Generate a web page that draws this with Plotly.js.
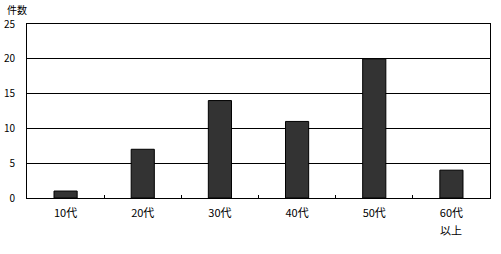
<!DOCTYPE html>
<html>
<head>
<meta charset="utf-8">
<script src="https://cdn.plot.ly/plotly-3.0.1.min.js"></script>
<style>body{margin:0;padding:0;background:#fff;}#chart{width:501px;height:254px;}</style>
</head>
<body>
<div id="chart"></div>
<script>
var categories = ["10代", "20代", "30代", "40代", "50代", "60代以上"];
var counts = [1, 7, 14, 11, 20, 4];
var tickLine1 = ["10代", "20代", "30代", "40代", "50代", "60代"];
var tickLine2 = ["", "", "", "", "", "以上"];
var yTicks = [0, 5, 10, 15, 20, 25];
var yAxisLabel = "件数";

var font = "'MS PGothic', 'Noto Sans CJK JP', sans-serif";

var trace = {
  type: "bar",
  x: categories,
  y: counts,
  marker: {color: "#333333", line: {color: "#000000", width: 1}},
  hoverinfo: "none"
};

var annotations = [{
  text: yAxisLabel, xref: "paper", yref: "paper",
  x: 0, y: 1, xanchor: "left", yanchor: "bottom",
  xshift: -21, yshift: 6, showarrow: false, borderpad: 0,
  font: {family: font, size: 10, color: "#000"}
}];
categories.forEach(function (c, i) {
  if (tickLine2[i]) {
    annotations.push({
      text: tickLine2[i], xref: "x", yref: "paper",
      x: c, y: 0, xanchor: "center", yanchor: "top",
      yshift: -23, showarrow: false, borderpad: 0,
      font: {family: font, size: 11, color: "#000"}
    });
  }
});

var layout = {
  width: 501, height: 254,
  margin: {l: 27, r: 11, t: 24, b: 56},
  paper_bgcolor: "#ffffff", plot_bgcolor: "#ffffff",
  bargap: 0.7,
  showlegend: false,
  font: {family: font, size: 10, color: "#000"},
  xaxis: {
    type: "category",
    tickmode: "array", tickvals: categories, ticktext: tickLine1,
    showline: true, linecolor: "#000", linewidth: 1, mirror: true,
    ticks: "inside", tickson: "boundaries", ticklen: 3, tickcolor: "#000",
    showgrid: false, zeroline: false,
    tickfont: {family: font, size: 11, color: "#000"},
    ticklabelstandoff: 5
  },
  yaxis: {
    range: [0, 25],
    tickvals: yTicks,
    showline: true, linecolor: "#000", linewidth: 1, mirror: true,
    showgrid: true, gridcolor: "#000", gridwidth: 1,
    zeroline: false, ticks: "",
    tickfont: {family: font, size: 10, color: "#000"},
    ticklabelstandoff: 9
  },
  annotations: annotations
};

Plotly.newPlot("chart", [trace], layout, {staticPlot: true, displayModeBar: false});
</script>
</body>
</html>
